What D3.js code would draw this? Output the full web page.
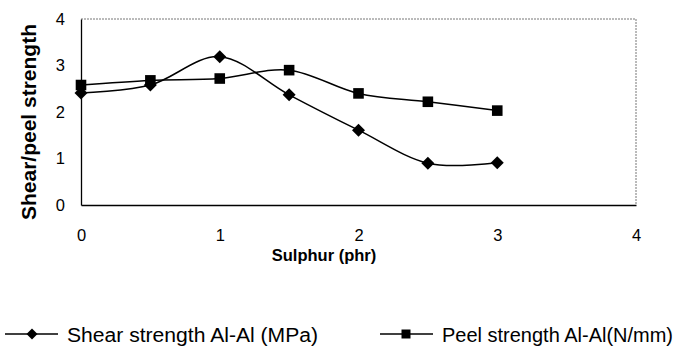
<!DOCTYPE html>
<html><head><meta charset="utf-8">
<script src="https://cdn.jsdelivr.net/npm/d3@7"></script>
<style>body{margin:0;background:#fff}svg{display:block}text{font-family:"Liberation Sans",Arial,sans-serif;fill:#000}</style>
</head><body><svg id="c" width="687" height="347"></svg>
<script>
const sulphur = [0, 0.5, 1, 1.5, 2, 2.5, 3];
const shear = [2.41, 2.58, 3.19, 2.37, 1.61, 0.9, 0.91];
const peel = [2.58, 2.68, 2.72, 2.9, 2.4, 2.22, 2.03];
const xTicks = [0, 1, 2, 3, 4];
const yTicks = [0, 1, 2, 3, 4];
const seriesNames = ["Shear strength Al-Al (MPa)", "Peel strength Al-Al(N/mm)"];

const svg = d3.select("#c");
const L = 81, R = 636, T = 19, B = 205;
const x = d3.scaleLinear().domain([0, 4]).range([L, R]);
const y = d3.scaleLinear().domain([0, 4]).range([B, T]);

svg.append("path").attr("d", `M${L},${T}H${R}V${B}`).attr("fill","none")
  .attr("stroke","#777").attr("stroke-width",1).attr("stroke-dasharray","2,1");

const xa = svg.append("g").attr("transform",`translate(0,${B})`)
  .call(d3.axisBottom(x).tickValues(xTicks).tickSize(0).tickPadding(24).tickFormat(d3.format("d")));
const ya = svg.append("g").attr("transform",`translate(${L},0)`)
  .call(d3.axisLeft(y).tickValues(yTicks).tickSize(0).tickPadding(16).tickFormat(d3.format("d")));
[xa, ya].forEach(g => {
  g.select(".domain").attr("stroke","#000").attr("stroke-width",1.3);
  g.selectAll("text").attr("font-size",16.5).attr("font-family","'Liberation Sans',Arial,sans-serif");
});

svg.append("text").attr("x", 324).attr("y", 261).attr("text-anchor","middle")
  .attr("font-size",16.5).attr("font-weight","bold").text("Sulphur (phr)");
svg.append("text").attr("transform","translate(36,122) rotate(-90)").attr("text-anchor","middle")
  .attr("font-size",21).attr("font-weight","bold").text("Shear/peel strength");

const line = d3.line().x(d => x(d[0])).y(d => y(d[1])).curve(d3.curveCardinal.tension(0));
const diamondPath = r => `M0,${-r}L${r},0L0,${r}L${-r},0Z`;
const squarePath = r => `M${-r},${-r}H${r}V${r}H${-r}Z`;

svg.append("path").datum(sulphur.map((s,i)=>[s,shear[i]])).attr("d", line)
  .attr("fill","none").attr("stroke","#000").attr("stroke-width",1.5);
svg.append("path").datum(sulphur.map((s,i)=>[s,peel[i]])).attr("d", line)
  .attr("fill","none").attr("stroke","#000").attr("stroke-width",1.5);

svg.selectAll(".dm").data(sulphur.map((s,i)=>[s,shear[i]])).join("path")
  .attr("transform", d=>`translate(${x(d[0])},${y(d[1])})`).attr("d", diamondPath(6.5)).attr("fill","#000");
svg.selectAll(".sq").data(sulphur.map((s,i)=>[s,peel[i]])).join("path")
  .attr("transform", d=>`translate(${x(d[0])},${y(d[1])})`).attr("d", squarePath(5.3)).attr("fill","#000");

// legend
const ly = 334;
svg.append("line").attr("x1",5).attr("x2",58).attr("y1",ly).attr("y2",ly).attr("stroke","#000").attr("stroke-width",1.3);
svg.append("path").attr("transform",`translate(32,${ly})`).attr("d", diamondPath(5.5)).attr("fill","#000");
svg.append("text").attr("x",67).attr("y",ly+7.5).attr("font-size",20)
  .attr("textLength",251).attr("lengthAdjust","spacingAndGlyphs").text(seriesNames[0]);
svg.append("line").attr("x1",380).attr("x2",433).attr("y1",ly).attr("y2",ly).attr("stroke","#000").attr("stroke-width",1.6);
svg.append("path").attr("transform",`translate(406,${ly})`).attr("d", squarePath(4.5)).attr("fill","#000");
svg.append("text").attr("x",442).attr("y",ly+7.5).attr("font-size",20)
  .attr("textLength",231).attr("lengthAdjust","spacingAndGlyphs").text(seriesNames[1]);
</script></body></html>
